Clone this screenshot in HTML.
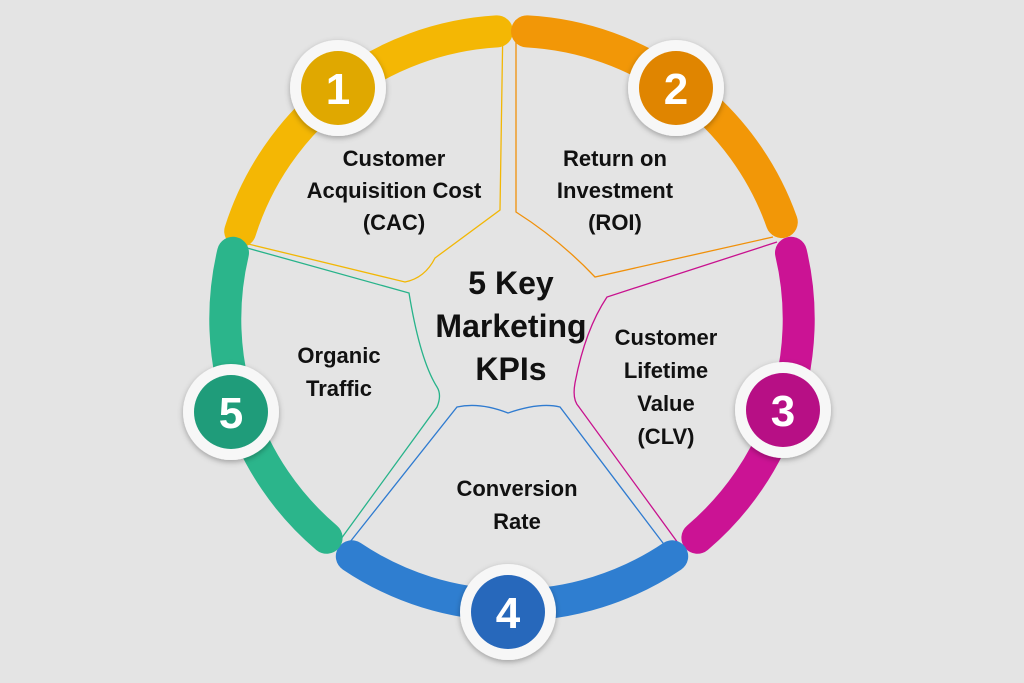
<!DOCTYPE html>
<html><head><meta charset="utf-8"><style>
html,body{margin:0;padding:0;background:#e4e4e4;}
svg{display:block}
text{font-family:"Liberation Sans",sans-serif;font-weight:bold;}
.num{font-family:"Liberation Sans Narrow","Liberation Sans",sans-serif;font-weight:bold;}
</style></head><body>
<svg width="1024" height="683" viewBox="0 0 1024 683" xmlns="http://www.w3.org/2000/svg">
<defs>
<filter id="sh" x="-30%" y="-30%" width="160%" height="160%"><feDropShadow dx="0" dy="2" stdDeviation="3" flood-color="#000" flood-opacity="0.3"/></filter>
</defs>
<rect width="1024" height="683" fill="#e4e4e4"/>
<g fill="none" stroke-width="1.3">
<path d="M240 242 L405 282 Q425 278 435 258 L500 210 L503 20" stroke="#f2b705"/>
<path d="M516 20 L516 212 Q560 240 595 277 L773 237" stroke="#f0900a"/>
<path d="M777 242 L607 297 Q585 330 575 383 Q572 400 579 407 L678 543" stroke="#c8118e"/>
<path d="M666 547 L560 407 Q540 402 508 413 Q480 402 457 407 L346 547" stroke="#2f7bd0"/>
<path d="M338 543 L437 407 Q442 395 437 387 Q420 360 409 293 L240 246" stroke="#27b38a"/>
</g>
<g fill="none" stroke-width="32" stroke-linecap="round">
<path d="M240.2 231.3 A287 287 0 0 1 497 31.4" stroke="#f4b704"/>
<path d="M527 31.4 A287 287 0 0 1 781.8 222.1" stroke="#f29707"/>
<path d="M791 252.8 A287 287 0 0 1 697.4 537.8" stroke="#cb1394"/>
<path d="M672.2 556.3 A287 287 0 0 1 351.8 556.3" stroke="#2f7ed0"/>
<path d="M326.6 537.8 A287 287 0 0 1 233 252.8" stroke="#2bb58b"/>
</g>
<g filter="url(#sh)">
<circle cx="338" cy="88" r="48" fill="#f7f7f7"/>
<circle cx="676" cy="88" r="48" fill="#f7f7f7"/>
<circle cx="783" cy="410" r="48" fill="#f7f7f7"/>
<circle cx="508" cy="612" r="48" fill="#f7f7f7"/>
<circle cx="231" cy="412" r="48" fill="#f7f7f7"/>
</g>
<circle cx="338" cy="88" r="37" fill="#e0a800"/>
<circle cx="676" cy="88" r="37" fill="#e08500"/>
<circle cx="783" cy="410" r="37" fill="#b70f85"/>
<circle cx="508" cy="612" r="37" fill="#2768bb"/>
<circle cx="231" cy="412" r="37" fill="#1f9c7a"/>
<g fill="#fff" font-size="44" text-anchor="middle" class="num">
<text class="num" x="338" y="104">1</text>
<text class="num" x="676" y="104">2</text>
<text class="num" x="783" y="426">3</text>
<text class="num" x="508" y="628">4</text>
<text class="num" x="231" y="428">5</text>
</g>
<g fill="#111" font-size="22" text-anchor="middle">
<text x="394" y="166">Customer</text>
<text x="394" y="198">Acquisition Cost</text>
<text x="394" y="230">(CAC)</text>
<text x="615" y="166">Return on</text>
<text x="615" y="198">Investment</text>
<text x="615" y="230">(ROI)</text>
<text x="666" y="345">Customer</text>
<text x="666" y="378">Lifetime</text>
<text x="666" y="411">Value</text>
<text x="666" y="444">(CLV)</text>
<text x="339" y="363">Organic</text>
<text x="339" y="396">Traffic</text>
<text x="517" y="496">Conversion</text>
<text x="517" y="529">Rate</text>
</g>
<g fill="#111" font-size="32" text-anchor="middle">
<text x="511" y="294">5 Key</text>
<text x="511" y="337">Marketing</text>
<text x="511" y="380">KPIs</text>
</g>
</svg>
</body></html>
